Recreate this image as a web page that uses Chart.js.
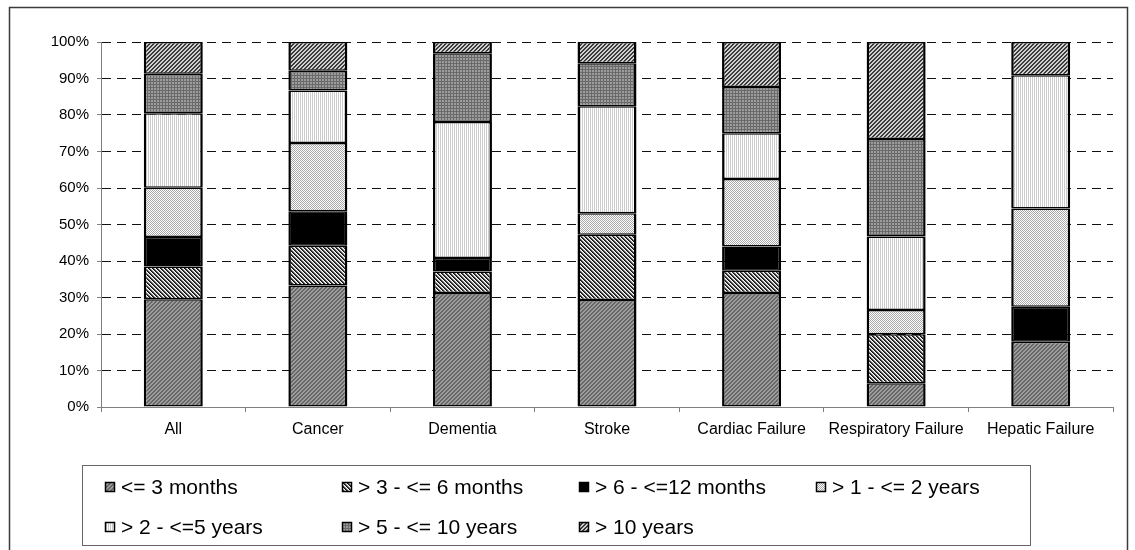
<!DOCTYPE html>
<html>
<head>
<meta charset="utf-8">
<script src="https://cdn.jsdelivr.net/npm/chart.js@4"></script>
<style>
  body { margin: 0; background: #fff; }
  #wrap { position: relative; width: 1135px; height: 550px; }
</style>
</head>
<body>
<div id="wrap"><canvas id="grafica" width="1135" height="550"></canvas></div>
<script>
const labels = ['All', 'Cancer', 'Dementia', 'Stroke', 'Cardiac Failure', 'Respiratory Failure', 'Hepatic Failure'];
const seriesNames = ['<= 3 months', '> 3 - <= 6 months', '> 6 - <=12 months', '> 1 - <= 2 years', '> 2 - <=5 years', '> 5 - <= 10 years', '> 10 years'];

// percent of each group
const upTo3m = [29.5, 33.3, 31.2, 29.3, 31.2, 6.5, 17.9];
const m3to6 = [9.0, 10.9, 5.9, 17.9, 6.1, 13.4, 0];
const m6to12 = [8.1, 9.4, 3.7, 0, 6.7, 0, 9.6];
const y1to2 = [13.5, 18.7, 0, 5.9, 18.5, 6.7, 26.9];
const y2to5 = [20.4, 14.4, 37.3, 29.3, 12.5, 20.1, 36.5];
const y5to10 = [10.8, 5.4, 18.8, 11.8, 12.7, 26.7, 0];
const over10y = [8.7, 7.9, 3.1, 5.8, 12.3, 26.6, 9.1];

const yTicks = [0, 10, 20, 30, 40, 50, 60, 70, 80, 90, 100];

// small pixel tiles to imitate the old excel fill patterns
function makePattern(size, fn) {
	const c = document.createElement('canvas');
	c.width = size; c.height = size;
	const cx = c.getContext('2d');
	for (let x = 0; x < size; x++) {
		for (let y = 0; y < size; y++) {
			cx.fillStyle = fn(x, y);
			cx.fillRect(x, y, 1, 1);
		}
	}
	return cx.createPattern(c, 'repeat');
}

const fills = [
	makePattern(4, (x, y) => ((x + y) % 4 < 2 ? '#676767' : '#9c9c9c')),
	makePattern(4, (x, y) => {
		const k = (x - y + 8) % 4;
		return k == 0 ? '#111' : (k == 1 ? '#444' : (k == 2 ? '#bbb' : '#fff'));
	}),
	'#000000',
	makePattern(2, (x, y) => ((x + y) % 2 == 0 ? '#a8a8a8' : '#ffffff')),
	makePattern(2, (x, y) => (x % 2 == 0 ? '#cccccc' : '#ffffff')),
	makePattern(3, (x, y) => ((x % 3 == 0 || y % 3 == 0) ? '#6a6a6a' : '#9c9c9c')),
	makePattern(4, (x, y) => ((x + y) % 4 < 2 ? '#3a3a3a' : '#d0d0d0'))
];

const values = [upTo3m, m3to6, m6to12, y1to2, y2to5, y5to10, over10y];

const datasets = seriesNames.map((name, i) => ({
	label: name,
	data: values[i],
	backgroundColor: fills[i],
	borderColor: '#000',
	borderWidth: { top: 1.5, bottom: 1.5, left: 2.5, right: 2.5 },
	borderSkipped: false,
	barPercentage: 0.408,
	categoryPercentage: 1
}));

const font = "'Liberation Sans', Arial, sans-serif";

// outer frame + the boxed legend below the plot
const framePlugin = {
	id: 'frame',
	beforeDraw(chart) {
		const ctx = chart.ctx;
		ctx.save();
		ctx.fillStyle = '#fff';
		ctx.fillRect(0, 0, chart.width, chart.height);
		ctx.strokeStyle = '#3a3a3a';
		ctx.lineWidth = 1.5;
		ctx.strokeRect(9.5, 7.5, 1118, 600);
		ctx.restore();
	},
	afterDraw(chart) {
		const ctx = chart.ctx;
		ctx.save();
		ctx.strokeStyle = '#666';
		ctx.lineWidth = 1;
		ctx.strokeRect(82.5, 465.5, 948, 80);
		ctx.font = '21px ' + font;
		ctx.textBaseline = 'middle';
		ctx.fillStyle = '#000';
		chart.data.datasets.forEach((ds, i) => {
			const col = i % 4;
			const row = Math.floor(i / 4);
			const x = 105 + col * 237;
			const y = row == 0 ? 487 : 527;
			ctx.fillStyle = ds.backgroundColor;
			ctx.fillRect(x, y - 5, 10, 10);
			ctx.strokeStyle = '#000';
			ctx.lineWidth = 1.5;
			ctx.strokeRect(x + 0.5, y - 4.5, 9, 9);
			ctx.fillStyle = '#000';
			ctx.fillText(ds.label, x + 16, y + 1);
		});
		ctx.restore();
	}
};

const graph = document.querySelector('#grafica');

new Chart(graph, {
	type: 'bar',
	data: { labels: labels, datasets: datasets },
	plugins: [framePlugin],
	options: {
		responsive: false,
		animation: false,
		layout: { padding: { top: 42, right: 22, left: 0, bottom: 0 } },
		plugins: { legend: { display: false }, tooltip: { enabled: false } },
		scales: {
			x: {
				stacked: true,
				afterFit: (s) => { s.height = 143; },
				grid: { display: true, drawOnChartArea: false, drawTicks: true, tickLength: 5, color: '#808080', offset: true },
				border: { color: '#808080', width: 1 },
				ticks: { color: '#000', font: { family: font, size: 16 }, padding: 8, maxRotation: 0 }
			},
			y: {
				stacked: true,
				min: 0,
				max: 100,
				afterFit: (s) => { s.width = 101; },
				afterBuildTicks: (s) => { s.ticks = yTicks.map(v => ({ value: v })); },
				grid: {
					color: (c) => (c.tick && c.tick.value === 0 ? 'rgba(0,0,0,0)' : '#111'),
					tickColor: '#808080',
					tickLength: 4,
					lineWidth: 1
				},
				border: { color: '#808080', width: 1, dash: [9, 6] },
				ticks: {
					color: '#000',
					font: { family: font, size: 15 },
					padding: 8,
					callback: (v) => v + '%'
				}
			}
		}
	}
});
</script>
</body>
</html>
